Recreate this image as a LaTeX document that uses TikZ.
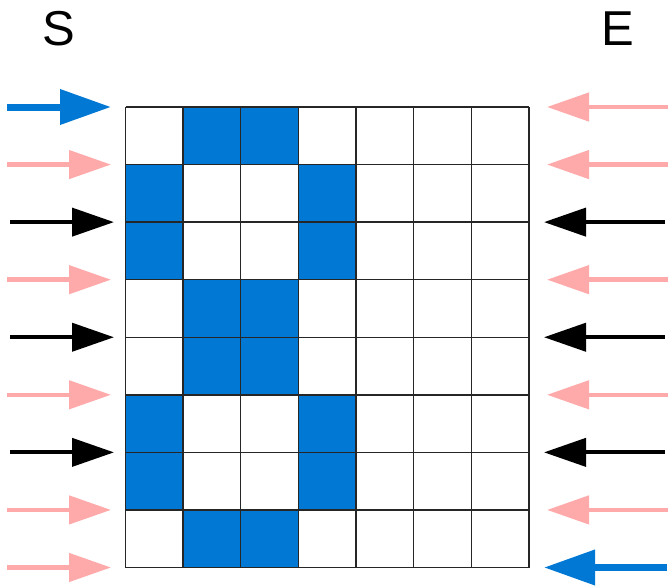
\documentclass[tikz,border=0pt]{standalone}
\usepackage{fontspec}
\setmainfont{Liberation Sans}
\usetikzlibrary{arrows.meta}
\definecolor{cblue}{RGB}{0,120,212}
\definecolor{cpink}{RGB}{255,170,170}
\begin{document}
\begin{tikzpicture}[x=1pt,y=-1pt,
  gridline/.style={draw=black!85,line width=1.4pt},
  pinkarr/.style={draw=cpink,line width=4.5pt,-{Triangle[length=42pt,width=28pt]}},
  blackarr/.style={draw=black,line width=4pt,-{Triangle[length=42pt,width=28pt]}},
  bluearr/.style={draw=cblue,line width=7pt,-{Triangle[length=51pt,width=34pt]}},
  lbl/.style={font=\fontsize{49}{49}\selectfont,inner sep=0pt}]
\useasboundingbox (0,0) rectangle (668,586);
\node[lbl] (S) at (59,29) {S};
\node[lbl] (E) at (618,29) {E};
% grid
\def\cw{57.64}\def\ch{57.56}
\foreach \r/\c in {0/1,0/2,1/0,1/3,2/0,2/3,3/1,3/2,4/1,4/2,5/0,5/3,6/0,6/3,7/1,7/2}{
  \fill[cblue] (125.5+\c*\cw,107+\r*\ch) rectangle ++(\cw,\ch);
}
\foreach \i in {0,...,7}{
  \draw[gridline] (125.5+\i*\cw,107) -- (125.5+\i*\cw,567.5);
}
\foreach \j in {0,...,8}{
  \draw[gridline] (125.5,107+\j*\ch) -- (529,107+\j*\ch);
}
% left arrows
\foreach \j/\s/\xa/\xb in {0/bluearr/7/111,1/pinkarr/7/111,2/blackarr/10/114,3/pinkarr/7/111,4/blackarr/10/114,5/pinkarr/7/111,6/blackarr/10/114,7/pinkarr/7/111,8/pinkarr/7/111}{
  \coordinate (l\j a) at (\xa,107+\j*\ch);
  \coordinate (l\j b) at (\xb,107+\j*\ch);
  \draw[\s] (l\j a) -- (l\j b);
}
% right arrows
\foreach \j/\s/\xa/\xb in {0/pinkarr/668/547,1/pinkarr/668/547,2/blackarr/665/544,3/pinkarr/668/547,4/blackarr/665/544,5/pinkarr/668/547,6/blackarr/665/544,7/pinkarr/668/547,8/bluearr/667/544}{
  \coordinate (r\j a) at (\xa,107+\j*\ch);
  \coordinate (r\j b) at (\xb,107+\j*\ch);
  \draw[\s] (r\j a) -- (r\j b);
}
\end{tikzpicture}
\end{document}
